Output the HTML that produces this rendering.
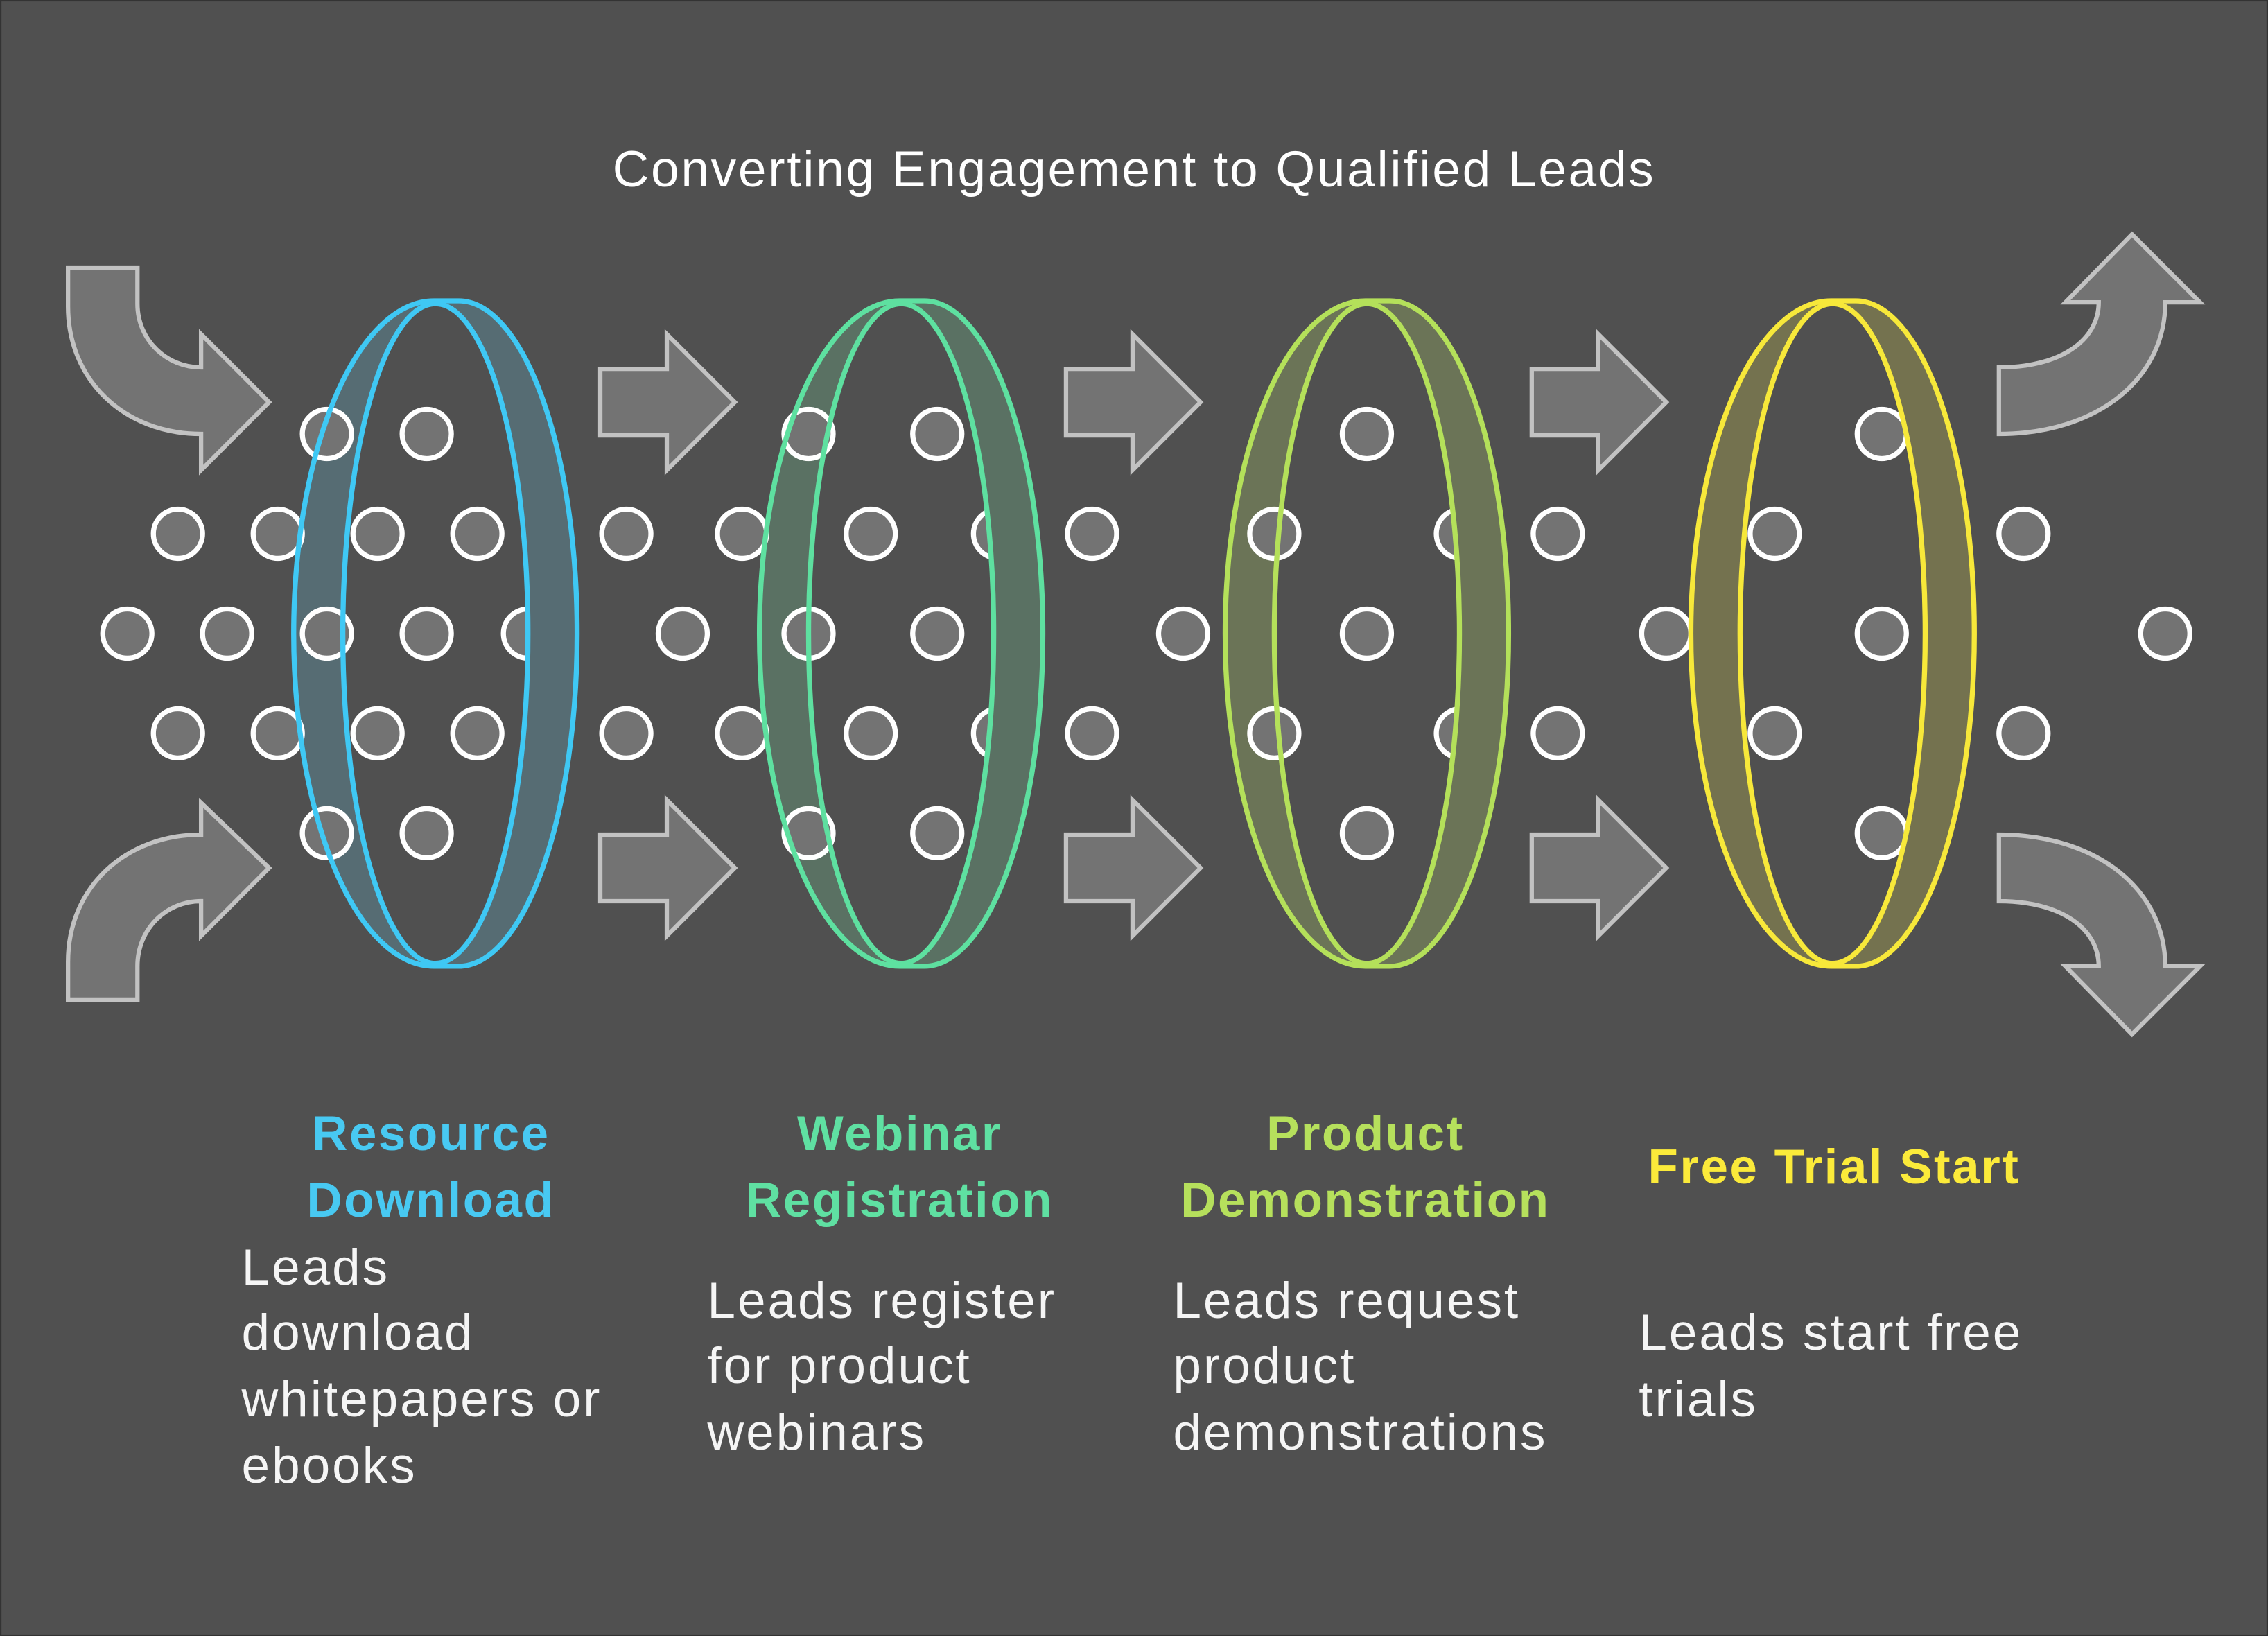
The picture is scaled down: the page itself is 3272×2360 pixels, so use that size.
<!DOCTYPE html>
<html><head><meta charset="utf-8"><style>
html,body{margin:0;padding:0;background:#505050;}
svg{display:block;}
text{font-family:"Liberation Sans",sans-serif;}
</style></head><body>
<svg width="3272" height="2360" viewBox="0 0 1568 1131" xmlns="http://www.w3.org/2000/svg">
<defs>
<clipPath id="c1"><rect x="310" y="0" width="200" height="1131"/></clipPath>
<clipPath id="c2"><rect x="632" y="0" width="200" height="1131"/></clipPath>
<clipPath id="c3"><rect x="954" y="0" width="200" height="1131"/></clipPath>
<clipPath id="c4"><rect x="1276" y="0" width="200" height="1131"/></clipPath>
</defs>
<rect x="0" y="0" width="1568" height="1131" fill="#505050" stroke="#333" stroke-width="2"/>
<text x="784" y="129" font-size="35" fill="#ffffff" text-anchor="middle" letter-spacing="1.3">Converting Engagement to Qualified Leads</text>

<g fill="#737373" stroke="#c2c2c2" stroke-width="3" stroke-linejoin="miter">
<path d="M47,185 L95,185 L95,210 C95,235 115,254 139,254 L139,231 L186,278 L139,325 L139,300 C85,300 47,262 47,212 Z"/>
<path d="M47,691 L47,665 C47,613 87,577 139,577 L139,555 L186,600 L139,647 L139,623 C115,623 95,642 95,668 L95,691 Z"/>
<path d="M1382,254 C1425,254 1451,235 1451,209 L1428,209 L1474,162 L1521,209 L1497,209 C1497,262 1450,300 1382,300 Z"/>
<path d="M1382,577 C1450,577 1497,615 1497,668 L1521,668 L1474,715 L1428,668 L1451,668 C1451,642 1425,623 1382,623 Z"/>
<g id="sa"><path d="M415,255 L461,255 L461,231 L508,278 L461,325 L461,301 L415,301 Z"/>
<path d="M415,577 L461,577 L461,553 L508,600 L461,647 L461,623 L415,623 Z"/></g>
<use href="#sa" x="322"/>
<use href="#sa" x="644"/>
</g>

<g fill-rule="evenodd">
<path id="b1" fill="#566c73" d="M300,208 A97,230 0 0 0 300,668 L317,668 A82,230 0 0 0 317,208 Z M301,210 A64,228 0 0 1 301,666 A64,228 0 0 1 301,210 Z"/>
<path id="b2" fill="#5a7163" d="M622,208 A97,230 0 0 0 622,668 L639,668 A82,230 0 0 0 639,208 Z M623,210 A64,228 0 0 1 623,666 A64,228 0 0 1 623,210 Z"/>
<path id="b3" fill="#6b7457" d="M944,208 A97,230 0 0 0 944,668 L961,668 A82,230 0 0 0 961,208 Z M945,210 A64,228 0 0 1 945,666 A64,228 0 0 1 945,210 Z"/>
<path id="b4" fill="#74724f" d="M1266,208 A97,230 0 0 0 1266,668 L1283,668 A82,230 0 0 0 1283,208 Z M1267,210 A64,228 0 0 1 1267,666 A64,228 0 0 1 1267,210 Z"/>
</g>

<g fill="#737373" stroke="#ffffff" stroke-width="3.5">
<circle cx="226" cy="300" r="17"/><circle cx="295" cy="300" r="17"/>
<circle cx="123" cy="369" r="17"/><circle cx="192" cy="369" r="17"/><circle cx="261" cy="369" r="17"/><circle cx="330" cy="369" r="17"/>
<circle cx="88" cy="438" r="17"/><circle cx="157" cy="438" r="17"/><circle cx="226" cy="438" r="17"/><circle cx="295" cy="438" r="17"/><circle cx="365" cy="438" r="17"/>
<circle cx="123" cy="507" r="17"/><circle cx="192" cy="507" r="17"/><circle cx="261" cy="507" r="17"/><circle cx="330" cy="507" r="17"/>
<circle cx="226" cy="576" r="17"/><circle cx="295" cy="576" r="17"/>
<circle cx="559" cy="300" r="17"/><circle cx="648" cy="300" r="17"/>
<circle cx="433" cy="369" r="17"/><circle cx="513" cy="369" r="17"/><circle cx="602" cy="369" r="17"/><circle cx="690" cy="369" r="17"/><circle cx="755" cy="369" r="17"/>
<circle cx="472" cy="438" r="17"/><circle cx="559" cy="438" r="17"/><circle cx="648" cy="438" r="17"/><circle cx="818" cy="438" r="17"/>
<circle cx="433" cy="507" r="17"/><circle cx="513" cy="507" r="17"/><circle cx="602" cy="507" r="17"/><circle cx="690" cy="507" r="17"/><circle cx="755" cy="507" r="17"/>
<circle cx="559" cy="576" r="17"/><circle cx="648" cy="576" r="17"/>
<circle cx="945" cy="300" r="17"/>
<circle cx="881" cy="369" r="17"/><circle cx="1010" cy="369" r="17"/><circle cx="1077" cy="369" r="17"/>
<circle cx="945" cy="438" r="17"/><circle cx="1152" cy="438" r="17"/>
<circle cx="881" cy="507" r="17"/><circle cx="1010" cy="507" r="17"/><circle cx="1077" cy="507" r="17"/>
<circle cx="945" cy="576" r="17"/>
<circle cx="1301" cy="300" r="17"/>
<circle cx="1227" cy="369" r="17"/><circle cx="1399" cy="369" r="17"/>
<circle cx="1301" cy="438" r="17"/><circle cx="1497" cy="438" r="17"/>
<circle cx="1227" cy="507" r="17"/><circle cx="1399" cy="507" r="17"/>
<circle cx="1301" cy="576" r="17"/>
</g>

<g fill-rule="evenodd">
<use href="#b1" clip-path="url(#c1)"/>
<use href="#b2" clip-path="url(#c2)"/>
<use href="#b3" clip-path="url(#c3)"/>
<use href="#b4" clip-path="url(#c4)"/>
</g>

<g fill="none" stroke-width="3.5">
<g stroke="#3fc8f4"><path d="M300,208 A97,230 0 0 0 300,668 L317,668 A82,230 0 0 0 317,208 Z"/><ellipse cx="301" cy="438" rx="64" ry="228"/></g>
<g stroke="#5ee0a0"><path d="M622,208 A97,230 0 0 0 622,668 L639,668 A82,230 0 0 0 639,208 Z"/><ellipse cx="623" cy="438" rx="64" ry="228"/></g>
<g stroke="#b4e05a"><path d="M944,208 A97,230 0 0 0 944,668 L961,668 A82,230 0 0 0 961,208 Z"/><ellipse cx="945" cy="438" rx="64" ry="228"/></g>
<g stroke="#f7e83a"><path d="M1266,208 A97,230 0 0 0 1266,668 L1283,668 A82,230 0 0 0 1283,208 Z"/><ellipse cx="1267" cy="438" rx="64" ry="228"/></g>
</g>

<g font-weight="bold" font-size="34" text-anchor="middle" letter-spacing="1.2">
<text x="298" y="795" fill="#48c9f2">Resource</text>
<text x="298" y="841" fill="#48c9f2">Download</text>
<text x="622" y="795" fill="#5fe0a2">Webinar</text>
<text x="622" y="841" fill="#5fe0a2">Registration</text>
<text x="944" y="795" fill="#b6e05c">Product</text>
<text x="944" y="841" fill="#b6e05c">Demonstration</text>
<text x="1268" y="818" fill="#fbea3a">Free Trial Start</text>
</g>
<g font-size="35" fill="#f5f5f5" letter-spacing="1.4">
<text x="167" y="888">Leads</text>
<text x="167" y="933">download</text>
<text x="167" y="979">whitepapers or</text>
<text x="167" y="1025">ebooks</text>
<text x="489" y="911">Leads register</text>
<text x="489" y="956">for product</text>
<text x="489" y="1002">webinars</text>
<text x="811" y="911">Leads request</text>
<text x="811" y="956">product</text>
<text x="811" y="1002">demonstrations</text>
<text x="1133" y="933">Leads start free</text>
<text x="1133" y="979">trials</text>
</g>
</svg>
</body></html>
